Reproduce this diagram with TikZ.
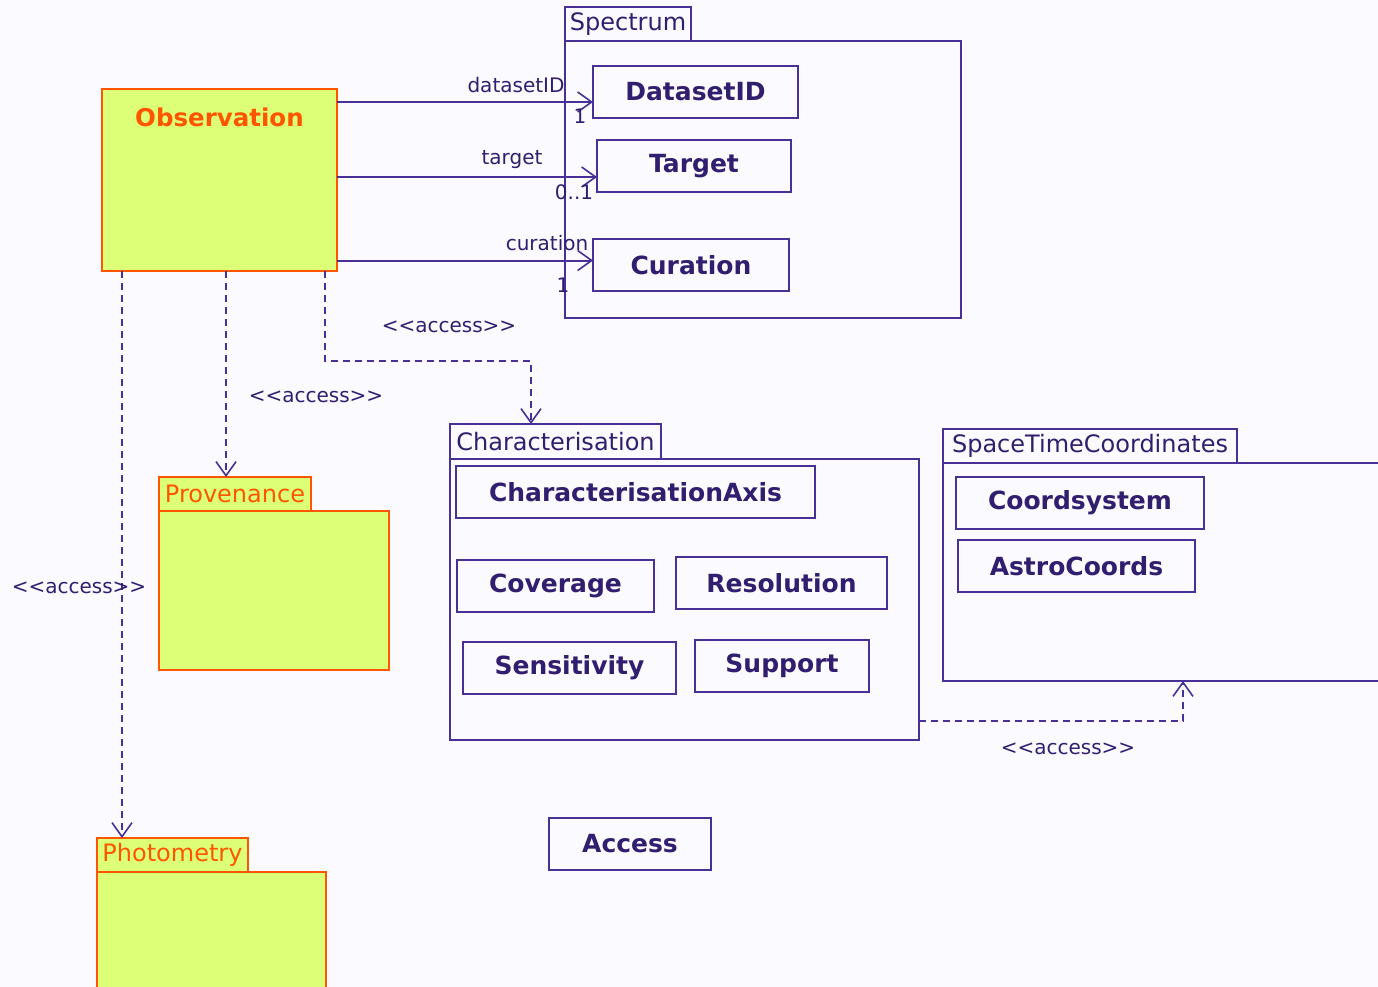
\documentclass[tikz,border=0pt]{standalone}
\usepackage{fontspec}
\setmainfont{DejaVu Sans}
\usetikzlibrary{arrows.meta,positioning}

\definecolor{umlline}{RGB}{72,48,150}
\definecolor{umltext}{RGB}{50,30,110}
\definecolor{obsorange}{RGB}{255,85,0}
\definecolor{obsfill}{RGB}{221,255,119}
\definecolor{paper}{RGB}{250,250,255}

% stereotype text, kern keeps << and >> from becoming guillemets
\newcommand{\stereo}{<\kern0pt<access>\kern0pt>}

\tikzset{
  classbox/.style={draw=umlline, line width=2pt, text=umltext, inner sep=0pt, outer sep=0pt,
    anchor=north west, minimum height=52pt, font=\fontsize{25}{28}\selectfont\bfseries},
  pkgbody/.style={draw=umlline, line width=2pt, inner sep=0pt, outer sep=0pt, anchor=north west},
  pkgtab/.style={pkgbody, anchor=south west, text=umltext, font=\fontsize{24}{26}\selectfont},
  hotbody/.style={pkgbody, draw=obsorange, fill=obsfill},
  hottab/.style={pkgtab, draw=obsorange, fill=obsfill, text=obsorange},
  assoc/.style={draw=umlline, line width=2pt, -{Straight Barb[length=14pt, width=20pt, line width=1.6pt]}},
  dep/.style={assoc, dash pattern=on 7pt off 5pt},
  rolelbl/.style={text=umltext, inner sep=0pt, font=\fontsize{20}{24}\selectfont},
}

\begin{document}
\begin{tikzpicture}[x=1pt, y=-1pt]
  \fill[paper] (0,0) rectangle (1378,987);
  \useasboundingbox (0,0) rectangle (1378,987);
  \clip (0,0) rectangle (1378,987);

  % Observation class
  \node[hotbody, minimum width=235pt, minimum height=182pt] (obs) at (102,89) {};
  \node[text=obsorange, inner sep=0pt, font=\fontsize{24.5}{28}\selectfont\bfseries] (obsname)
    at ([yshift=-28pt]obs.north) {Observation};

  % Packages
  \node[pkgbody, minimum width=396pt, minimum height=277pt] (spec) at (565,41) {};
  \node[pkgtab, minimum width=126pt, minimum height=34pt] (spectab) at (spec.north west) {Spectrum};
  \node[pkgbody, minimum width=469pt, minimum height=281pt] (char) at (450,459) {};
  \node[pkgtab, minimum width=211pt, minimum height=35pt] (chartab) at (char.north west) {Characterisation};
  \node[pkgbody, minimum width=470pt, minimum height=218pt] (stc) at (943,463) {};
  \node[pkgtab, minimum width=294pt, minimum height=34pt] (stctab) at (stc.north west) {SpaceTimeCoordinates};
  \node[hotbody, minimum width=230pt, minimum height=159pt] (prov) at (159,511) {};
  \node[hottab, minimum width=152pt, minimum height=34pt] (provtab) at (prov.north west) {Provenance};
  \node[hotbody, minimum width=229pt, minimum height=140pt] (phot) at (97,872) {};
  \node[hottab, minimum width=151pt, minimum height=34pt] (phottab) at (phot.north west) {Photometry};

  % Draw the classes
  \foreach \nm/\x/\y/\w/\txt in {dsid/593/66/205/DatasetID, targ/597/140/194/Target,
      cur/593/239/196/Curation, caxis/456/466/359/CharacterisationAxis,
      cov/457/560/197/Coverage, res/676/557/211/Resolution,
      sens/463/642/213/Sensitivity, supp/695/640/174/Support,
      csys/956/477/248/Coordsystem, acoords/958/540/237/AstroCoords,
      acc/549/818/162/Access} {
    \node[classbox, minimum width=\w pt] (\nm) at (\x,\y) {\txt};
  }

  % Draw the associations
  \coordinate (dsidin) at ([yshift=-10pt]dsid.west);
  \coordinate (targin) at ([yshift=-11pt]targ.west);
  \coordinate (curin) at ([yshift=4.5pt]cur.west);
  \draw[assoc] (obs.east |- dsidin) -- (dsidin);
  \draw[assoc] (obs.east |- targin) -- (targin);
  \draw[assoc] (obs.east |- curin) -- (curin);
  \node[rolelbl] at (516,85) {datasetID};
  \node[rolelbl] at (580,116) {1};
  \node[rolelbl] at (512,160) {target};
  \node[rolelbl] at (574,192) {0..1};
  \node[rolelbl] at (547,243) {curation};
  \node[rolelbl] at (563,285) {1};

  % Draw the access dependencies
  \coordinate (provin) at ([xshift=-9pt]provtab.north);
  \coordinate (charin) at ([xshift=-24.5pt]chartab.north);
  \coordinate (photin) at ([xshift=-50.5pt]phottab.north);
  \coordinate (stcin) at ([xshift=240pt]stc.south west);
  \draw[dep] (obs.south -| provin) -- (provin);
  \draw[dep] ([xshift=-12pt]obs.south east) -- ++(0,90) -| (charin);
  \draw[dep] (obs.south -| photin) -- (photin);
  \draw[dep] ([yshift=19pt]char.south east) -| (stcin);
  \node[rolelbl] at (449,327) {\stereo};
  \node[rolelbl] at (316,397) {\stereo};
  \node[rolelbl] at (79,588) {\stereo};
  \node[rolelbl] at (1068,749) {\stereo};
\end{tikzpicture}
\end{document}
